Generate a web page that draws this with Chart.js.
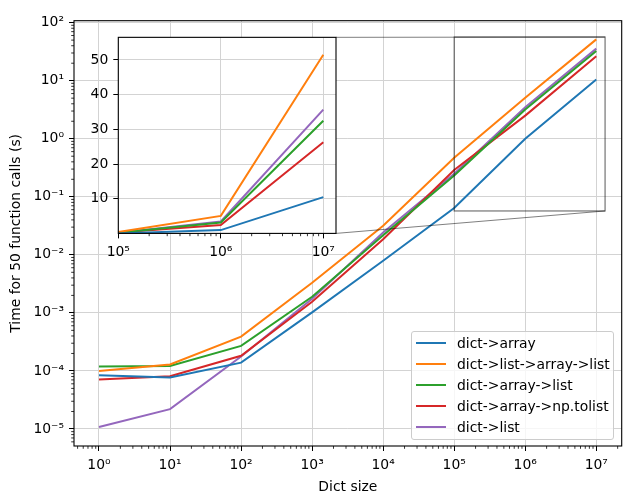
<!DOCTYPE html>
<html>
<head>
<meta charset="utf-8">
<script src="https://cdn.jsdelivr.net/npm/chart.js@4.4.0/dist/chart.umd.min.js"></script>
<style>
  body { margin: 0; background: #fff; }
  #wrap { position: relative; width: 628px; height: 496px; font-family: "DejaVu Sans", sans-serif; }
  #main { position: absolute; left: 0; top: 0; }
  #insetBox { position: absolute; left: 78px; top: 24px; width: 266px; height: 240px; }
  #legend { position: absolute; left: 411px; top: 331px; width: 201px; height: 107px;
            border: 1px solid #cccccc; border-radius: 3px; background: rgba(255,255,255,0.8);
            font-size: 13.9px; color: #000; }
  .swatch { position: absolute; left: 4px; width: 30px; height: 2px; }
  .lbl { position: absolute; left: 45px; white-space: nowrap; line-height: 16px; }
</style>
</head>
<body>
<div id="wrap">
  <canvas id="main" width="628" height="496"></canvas>
  <div id="insetBox"><canvas id="inset" width="266" height="240"></canvas></div>
  <div id="legend"></div>
</div>
<script>
// dict sizes (x) and timings for 50 calls (s)
const sizes = [1, 10, 100, 1e3, 1e4, 1e5, 1e6, 1e7];
const seriesNames = ["dict->array", "dict->list->array->list", "dict->array->list", "dict->array->np.tolist", "dict->list"];
const dictArray        = [8.4e-5, 7.7e-5, 1.39e-4, 1.02e-3, 7.9e-3, 0.064, 1.0, 10.5];
const dictListArrList  = [1.0e-4, 1.29e-4, 3.9e-4, 3.3e-3, 0.0316, 0.47, 5.1, 51.5];
const dictArrayList    = [1.19e-4, 1.22e-4, 2.7e-4, 1.9e-3, 0.0218, 0.233, 3.2, 32.5];
const dictArrayToList  = [7.1e-5, 8.1e-5, 1.82e-4, 1.55e-3, 0.0186, 0.29, 2.5, 26.3];
const dictList         = [1.08e-5, 2.2e-5, 1.77e-4, 1.75e-3, 0.0243, 0.25, 3.5, 35.7];
const allSeries = [dictArray, dictListArrList, dictArrayList, dictArrayToList, dictList];
const colors = ["#1f77b4", "#ff7f0e", "#2ca02c", "#d62728", "#9467bd"];

const xTicks = [1, 10, 100, 1e3, 1e4, 1e5, 1e6, 1e7];
const xTickLabels = ["10⁰", "10¹", "10²", "10³", "10⁴", "10⁵", "10⁶", "10⁷"];
const yTicks = [1e-5, 1e-4, 1e-3, 1e-2, 1e-1, 1, 10, 100];
const yTickLabels = ["10⁻⁵", "10⁻⁴", "10⁻³", "10⁻²", "10⁻¹", "10⁰", "10¹", "10²"];
const insetXTicks = [1e5, 1e6, 1e7];
const insetXTickLabels = ["10⁵", "10⁶", "10⁷"];
const insetYTicks = [10, 20, 30, 40, 50];
const insetYTickLabels = ["10", "20", "30", "40", "50"];

const xRange = [0.445, 2.28e7];
const yRange = [5.09e-6, 108];
const zoomX = [1e5, 1.33e7];
const zoomY = [0.057, 56.5];
const insetFrom = 5; // first index shown in the inset

const insetLeft = 78, insetTop = 24;
const GRID = "#d3d3d3";

Chart.defaults.font.family = "DejaVu Sans";
Chart.defaults.font.size = 13.9;
Chart.defaults.color = "#000";

function minorValues(min, max) {
  const out = [];
  for (let e = Math.floor(Math.log10(min)); e <= Math.ceil(Math.log10(max)); e++) {
    for (let m = 2; m <= 9; m++) {
      const v = m * Math.pow(10, e);
      if (v >= min && v <= max) out.push(v);
    }
  }
  return out;
}

function drawMinor(chart, id, len) {
  const s = chart.scales[id];
  const ctx = chart.ctx;
  ctx.save();
  ctx.strokeStyle = "#000";
  ctx.lineWidth = 0.8;
  ctx.beginPath();
  minorValues(s.min, s.max).forEach(v => {
    const p = s.getPixelForValue(v);
    if (s.isHorizontal()) { ctx.moveTo(p, s.top); ctx.lineTo(p, s.top + len); }
    else { ctx.moveTo(s.right, p); ctx.lineTo(s.right - len, p); }
  });
  ctx.stroke();
  ctx.restore();
}

const framePlugin = {
  id: "frame",
  beforeDraw(chart) {
    const a = chart.chartArea;
    chart.ctx.save();
    chart.ctx.fillStyle = "#fff";
    chart.ctx.fillRect(a.left, a.top, a.right - a.left, a.bottom - a.top);
    chart.ctx.restore();
  },
  afterDraw(chart) {
    const a = chart.chartArea;
    const ctx = chart.ctx;
    ctx.save();
    ctx.strokeStyle = "#000";
    ctx.lineWidth = 1.1;
    ctx.strokeRect(a.left, a.top, a.right - a.left, a.bottom - a.top);
    ctx.restore();
    drawMinor(chart, "x", 2.8);
    if (chart.options.scales.y.type === "logarithmic") drawMinor(chart, "y", 2.8);
  }
};

function tickSetter(values) {
  return scale => { scale.ticks = values.map(v => ({ value: v })); };
}

function axis(type, range, ticks, labels, fitProp, fitVal, title) {
  const cfg = {
    type: type,
    min: range[0],
    max: range[1],
    afterBuildTicks: tickSetter(ticks),
    afterFit: s => { s[fitProp] = fitVal; },
    border: { display: false },
    grid: { color: GRID, lineWidth: 1, drawTicks: true, tickLength: 5, tickColor: "#000", tickWidth: 1 },
    ticks: { autoSkip: false, maxRotation: 0, padding: fitProp === "width" ? 5 : 6,
             callback: (v, i) => labels[i] }
  };
  if (title) cfg.title = title;
  return cfg;
}

function datasets(from) {
  return allSeries.map((vals, k) => ({
    label: seriesNames[k],
    data: sizes.slice(from).map((x, i) => ({ x: x, y: vals[from + i] })),
    borderColor: colors[k],
    borderWidth: 2,
    pointRadius: 0,
    tension: 0,
    fill: false
  }));
}

// inset: linear zoom of the last two decades
const insetChart = new Chart(document.getElementById("inset"), {
  type: "line",
  data: { datasets: datasets(insetFrom) },
  options: {
    responsive: false,
    animation: false,
    devicePixelRatio: 1,
    layout: { padding: { left: 0, top: 9.7, right: 8, bottom: 0 } },
    plugins: { legend: { display: false }, tooltip: { enabled: false } },
    scales: {
      x: axis("logarithmic", zoomX, insetXTicks, insetXTickLabels, "height", 30.6),
      y: axis("linear", zoomY, insetYTicks, insetYTickLabels, "width", 40.3)
    }
  },
  plugins: [framePlugin]
});

const zoomPlugin = {
  id: "zoomMark",
  afterDatasetsDraw(chart) {
    const { x, y } = chart.scales;
    const ctx = chart.ctx;
    const l = x.getPixelForValue(zoomX[0]), r = x.getPixelForValue(zoomX[1]);
    const t = y.getPixelForValue(zoomY[1]), b = y.getPixelForValue(zoomY[0]);
    const ia = insetChart.chartArea;
    ctx.save();
    ctx.strokeStyle = "rgba(0,0,0,0.55)";
    ctx.lineWidth = 1.2;
    ctx.strokeRect(l, t, r - l, b - t);
    ctx.strokeStyle = "rgba(0,0,0,0.5)";
    ctx.lineWidth = 1;
    ctx.beginPath();
    ctx.moveTo(insetLeft + ia.right, insetTop + ia.top);
    ctx.lineTo(r, t);
    ctx.moveTo(insetLeft + ia.right, insetTop + ia.bottom);
    ctx.lineTo(r, b);
    ctx.stroke();
    ctx.restore();
  }
};

new Chart(document.getElementById("main"), {
  type: "line",
  data: { datasets: datasets(0) },
  options: {
    responsive: false,
    animation: false,
    devicePixelRatio: 1,
    layout: { padding: { left: 0, top: 20.7, right: 6.3, bottom: 0 } },
    plugins: { legend: { display: false }, tooltip: { enabled: false } },
    scales: {
      x: axis("logarithmic", xRange, xTicks, xTickLabels, "height", 50,
              { display: true, text: "Dict size", padding: { top: 0, bottom: 0 } }),
      y: axis("logarithmic", yRange, yTicks, yTickLabels, "width", 74,
              { display: true, text: "Time for 50 function calls (s)", padding: { top: 8, bottom: 0 } })
    }
  },
  plugins: [framePlugin, zoomPlugin]
});

// legend box, lower right
const legend = document.getElementById("legend");
seriesNames.forEach((name, i) => {
  const c = 10.7 + i * 21.07;
  const sw = document.createElement("div");
  sw.className = "swatch";
  sw.style.top = (c - 1) + "px";
  sw.style.background = colors[i];
  const lb = document.createElement("div");
  lb.className = "lbl";
  lb.style.top = (c - 8) + "px";
  lb.textContent = name;
  legend.appendChild(sw);
  legend.appendChild(lb);
});
</script>
</body>
</html>
